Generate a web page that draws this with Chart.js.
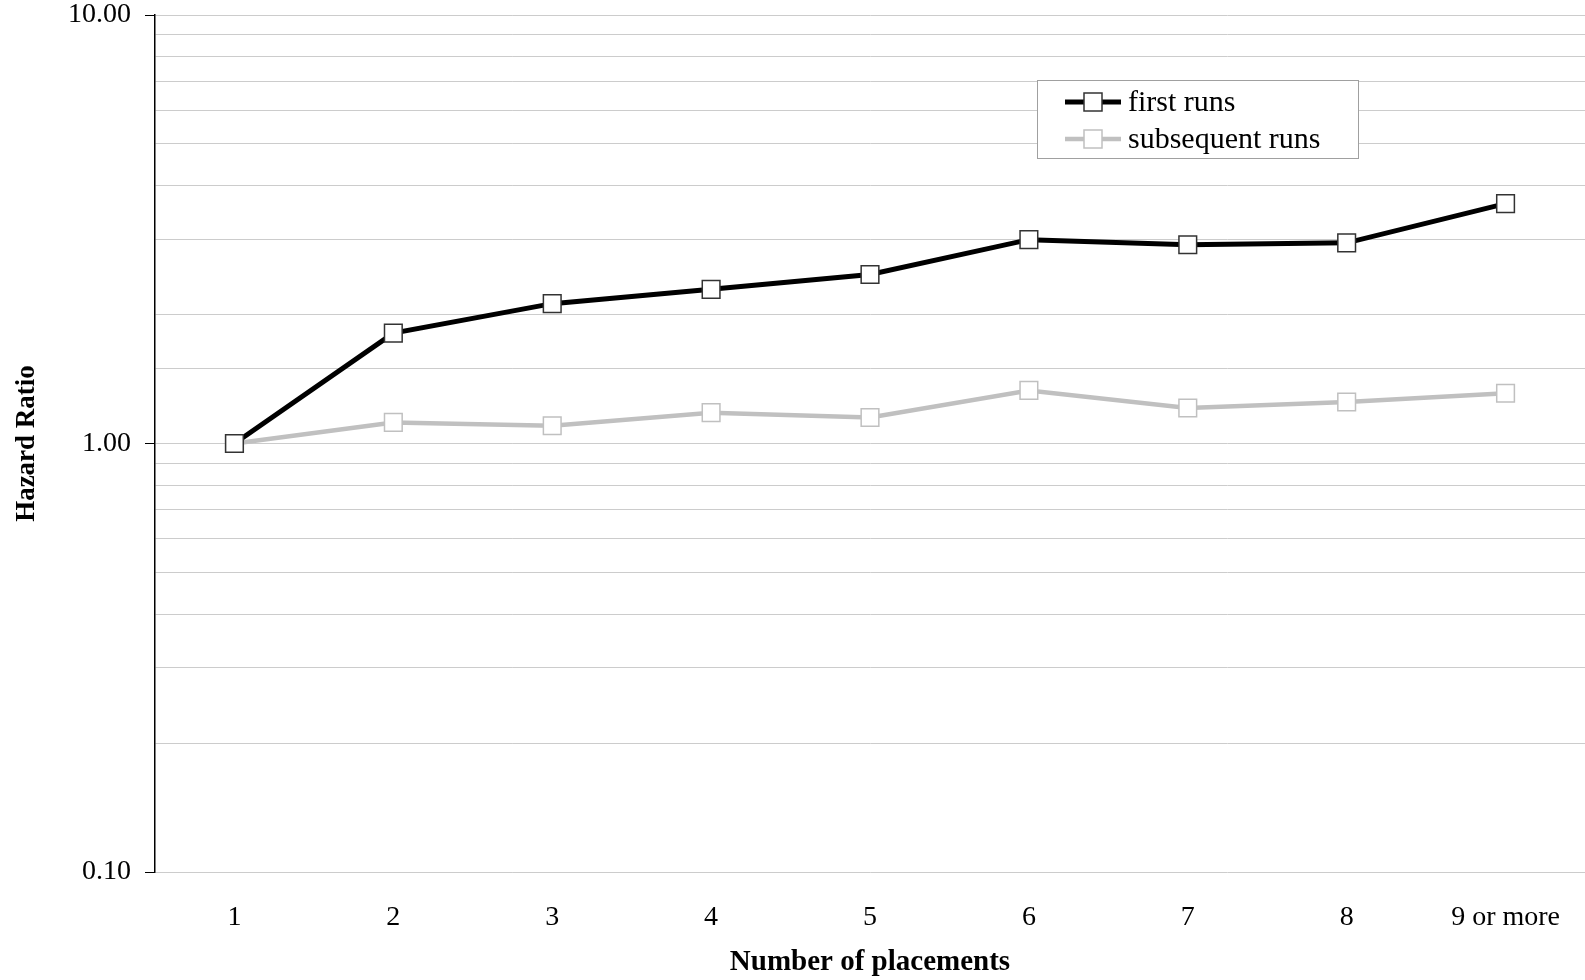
<!DOCTYPE html>
<html>
<head>
<meta charset="utf-8">
<script src="https://cdn.jsdelivr.net/npm/chart.js@4/dist/chart.umd.min.js"></script>
<style>
  html, body { margin: 0; padding: 0; background: #fff; overflow: hidden; }
  canvas { display: block; }
</style>
</head>
<body>
<canvas id="hrChart" width="1585" height="980"></canvas>
<script>
// categories and series
const placements = ['1', '2', '3', '4', '5', '6', '7', '8', '9 or more'];
const firstRuns = [1.00, 1.81, 2.12, 2.29, 2.48, 2.99, 2.91, 2.94, 3.63];
const subsequentRuns = [1.00, 1.12, 1.10, 1.18, 1.15, 1.33, 1.21, 1.25, 1.31];
const majorTicks = [0.1, 1, 10];

const serif = '"Liberation Serif", "DejaVu Serif", serif';

// legend box drawn inside the plot, like the original
const boxLegend = {
    id: 'boxLegend',
    afterDraw(chart) {
        const c = chart.ctx;
        const x0 = 1037, y0 = 80, w = 321, h = 78;
        c.save();
        c.fillStyle = '#fff';
        c.fillRect(x0, y0, w, h);
        c.strokeStyle = '#a0a0a0';
        c.lineWidth = 1;
        c.strokeRect(x0 + 0.5, y0 + 0.5, w, h);
        chart.data.datasets.forEach((ds, i) => {
            const y = 102 + i * 37;
            c.strokeStyle = ds.borderColor;
            c.lineWidth = ds.borderWidth;
            c.beginPath();
            c.moveTo(1065, y);
            c.lineTo(1121, y);
            c.stroke();
            c.fillStyle = '#fff';
            c.strokeStyle = ds.pointBorderColor;
            c.lineWidth = 1.5;
            c.fillRect(1084, y - 9, 18, 18);
            c.strokeRect(1084, y - 9, 18, 18);
            c.fillStyle = '#000';
            c.font = '30px ' + serif;
            c.textBaseline = 'middle';
            c.fillText(ds.label, 1128, y + 1);
        });
        c.restore();
    }
};

const ctx = document.getElementById('hrChart').getContext('2d');
new Chart(ctx, {
    type: 'line',
    data: {
        labels: placements,
        datasets: [
            {
                label: 'first runs',
                data: firstRuns,
                borderColor: '#000',
                borderWidth: 5,
                pointStyle: 'rect',
                pointRadius: 12.5,
                pointBackgroundColor: '#fff',
                pointBorderColor: '#333',
                pointBorderWidth: 1.5,
                tension: 0,
                order: 0
            },
            {
                label: 'subsequent runs',
                data: subsequentRuns,
                borderColor: '#c0c0c0',
                borderWidth: 4.5,
                pointStyle: 'rect',
                pointRadius: 12.5,
                pointBackgroundColor: '#fff',
                pointBorderColor: '#c0c0c0',
                pointBorderWidth: 1.5,
                tension: 0,
                order: 1
            }
        ]
    },
    options: {
        responsive: false,
        animation: false,
        layout: { autoPadding: false, padding: { top: 15, right: -6, left: 0, bottom: 0 } },
        plugins: {
            legend: { display: false },
            tooltip: { enabled: false }
        },
        scales: {
            x: {
                offset: true,
                afterFit(scale) {
                    scale.height = 108;
                    scale.paddingLeft = 0;
                    scale.paddingRight = 0;
                },
                grid: { drawOnChartArea: false, drawTicks: false },
                border: { display: false },
                ticks: { color: '#000', font: { family: serif, size: 28 }, padding: 29, maxRotation: 0 },
                title: {
                    display: true,
                    text: 'Number of placements',
                    color: '#000',
                    font: { family: serif, size: 29, weight: 'bold' },
                    padding: { top: 0, bottom: 0 }
                }
            },
            y: {
                type: 'logarithmic',
                min: 0.1,
                max: 10,
                afterFit(scale) {
                    scale.width = 155;
                    scale.paddingTop = 0;
                    scale.paddingBottom = 0;
                },
                border: { color: '#000', width: 1.5 },
                grid: {
                    color: '#cccccc',
                    lineWidth: 1,
                    tickLength: 10,
                    tickColor: (c) => majorTicks.includes(c.tick.value) ? '#000' : 'rgba(0,0,0,0)'
                },
                ticks: {
                    color: '#000',
                    font: { family: serif, size: 28 },
                    padding: 14,
                    autoSkip: false,
                    callback: (v) => majorTicks.includes(v) ? v.toFixed(2) : ''
                },
                title: {
                    display: true,
                    text: 'Hazard Ratio',
                    color: '#000',
                    font: { family: serif, size: 27, weight: 'bold' },
                    padding: { top: 11, bottom: 0 }
                }
            }
        }
    },
    plugins: [boxLegend]
});
</script>
</body>
</html>
